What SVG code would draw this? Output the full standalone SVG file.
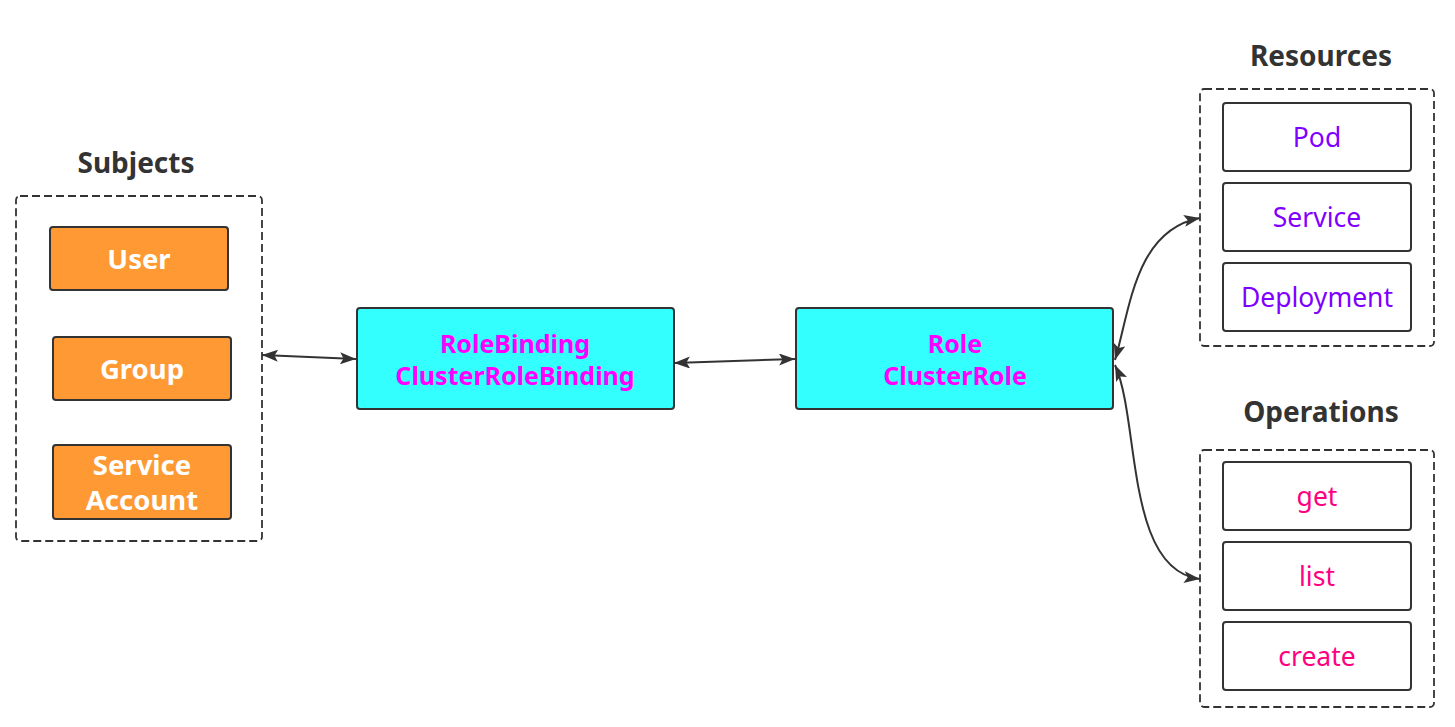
<svg xmlns="http://www.w3.org/2000/svg" width="1455" height="727" viewBox="0 0 1455 727">
<style>
.title{font-family:"Noto Sans","Open Sans",sans-serif;font-weight:bold;font-size:28px;fill:#333;text-anchor:middle}
.grp{fill:none;stroke:#333;stroke-width:1.8;stroke-dasharray:8 4}
.sub{fill:#FF9933;stroke:#333;stroke-width:2}
.subt{font-family:"Noto Sans","Open Sans",sans-serif;font-weight:bold;font-size:27.5px;fill:#fff;text-anchor:middle}
.role{fill:#33FFFF;stroke:#333;stroke-width:2}
.rolet{font-family:"Noto Sans","Open Sans",sans-serif;font-weight:bold;font-size:25px;fill:#FF00FF;text-anchor:middle}
.item{fill:#fff;stroke:#333;stroke-width:2}
.res{font-family:"Noto Sans","Open Sans",sans-serif;font-size:26.5px;fill:#7F00FF;text-anchor:middle}
.op{font-family:"Noto Sans","Open Sans",sans-serif;font-size:26.5px;fill:#FF0080;text-anchor:middle}
.conn{fill:none;stroke:#333;stroke-width:2}
</style>
<defs>
<marker id="a" viewBox="0 0 16 12" refX="16" refY="6" markerWidth="16" markerHeight="12" markerUnits="userSpaceOnUse" orient="auto-start-reverse">
<path d="M0,0 L16,6 L0,12 L3.5,6 Z" fill="#333"/>
</marker>
</defs>

<g id="subjects">
<text class="title" x="136" y="173">Subjects</text>
<rect class="grp" x="16" y="196" width="246" height="345" rx="4"/>
</g>
<g id="user">
<rect class="sub" x="50" y="227" width="178" height="63" rx="3"/>
<text class="subt" x="139" y="269">User</text>
</g>
<g id="group">
<rect class="sub" x="53" y="337" width="178" height="63" rx="3"/>
<text class="subt" x="142" y="379">Group</text>
</g>
<g id="serviceaccount">
<rect class="sub" x="53" y="445" width="178" height="74" rx="3"/>
<text class="subt" x="142" y="475">Service</text>
<text class="subt" x="142" y="510">Account</text>
</g>

<g id="rolebinding">
<rect class="role" x="357" y="308" width="317" height="101" rx="3"/>
<text class="rolet" x="515" y="353">RoleBinding</text>
<text class="rolet" x="515" y="385">ClusterRoleBinding</text>
</g>
<g id="role">
<rect class="role" x="796" y="308" width="317" height="101" rx="3"/>
<text class="rolet" x="955" y="353">Role</text>
<text class="rolet" x="955" y="385">ClusterRole</text>
</g>

<g id="resources">
<text class="title" x="1321" y="66">Resources</text>
<rect class="grp" x="1200" y="89" width="234" height="257" rx="4"/>
</g>
<g id="pod">
<rect class="item" x="1223" y="103" width="188" height="68" rx="3"/>
<text class="res" x="1317" y="147">Pod</text>
</g>
<g id="service">
<rect class="item" x="1223" y="183" width="188" height="68" rx="3"/>
<text class="res" x="1317" y="227">Service</text>
</g>
<g id="deployment">
<rect class="item" x="1223" y="263" width="188" height="68" rx="3"/>
<text class="res" x="1317" y="307">Deployment</text>
</g>

<g id="operations">
<text class="title" x="1321" y="422">Operations</text>
<rect class="grp" x="1200" y="450" width="234" height="257" rx="4"/>
</g>
<g id="get">
<rect class="item" x="1223" y="462" width="188" height="68" rx="3"/>
<text class="op" x="1317" y="506">get</text>
</g>
<g id="list">
<rect class="item" x="1223" y="542" width="188" height="68" rx="3"/>
<text class="op" x="1317" y="586">list</text>
</g>
<g id="create">
<rect class="item" x="1223" y="622" width="188" height="68" rx="3"/>
<text class="op" x="1317" y="666">create</text>
</g>

<g id="connectors">
<path class="conn" d="M262,355 L356,359" marker-start="url(#a)" marker-end="url(#a)"/>
<path class="conn" d="M674,363 L795,359" marker-start="url(#a)" marker-end="url(#a)"/>
<path class="conn" d="M1115,360 C1130,310 1135,230 1200,218" marker-start="url(#a)" marker-end="url(#a)"/>
<path class="conn" d="M1115,365 C1140,420 1125,570 1200,579" marker-start="url(#a)" marker-end="url(#a)"/>
</g>
</svg>
